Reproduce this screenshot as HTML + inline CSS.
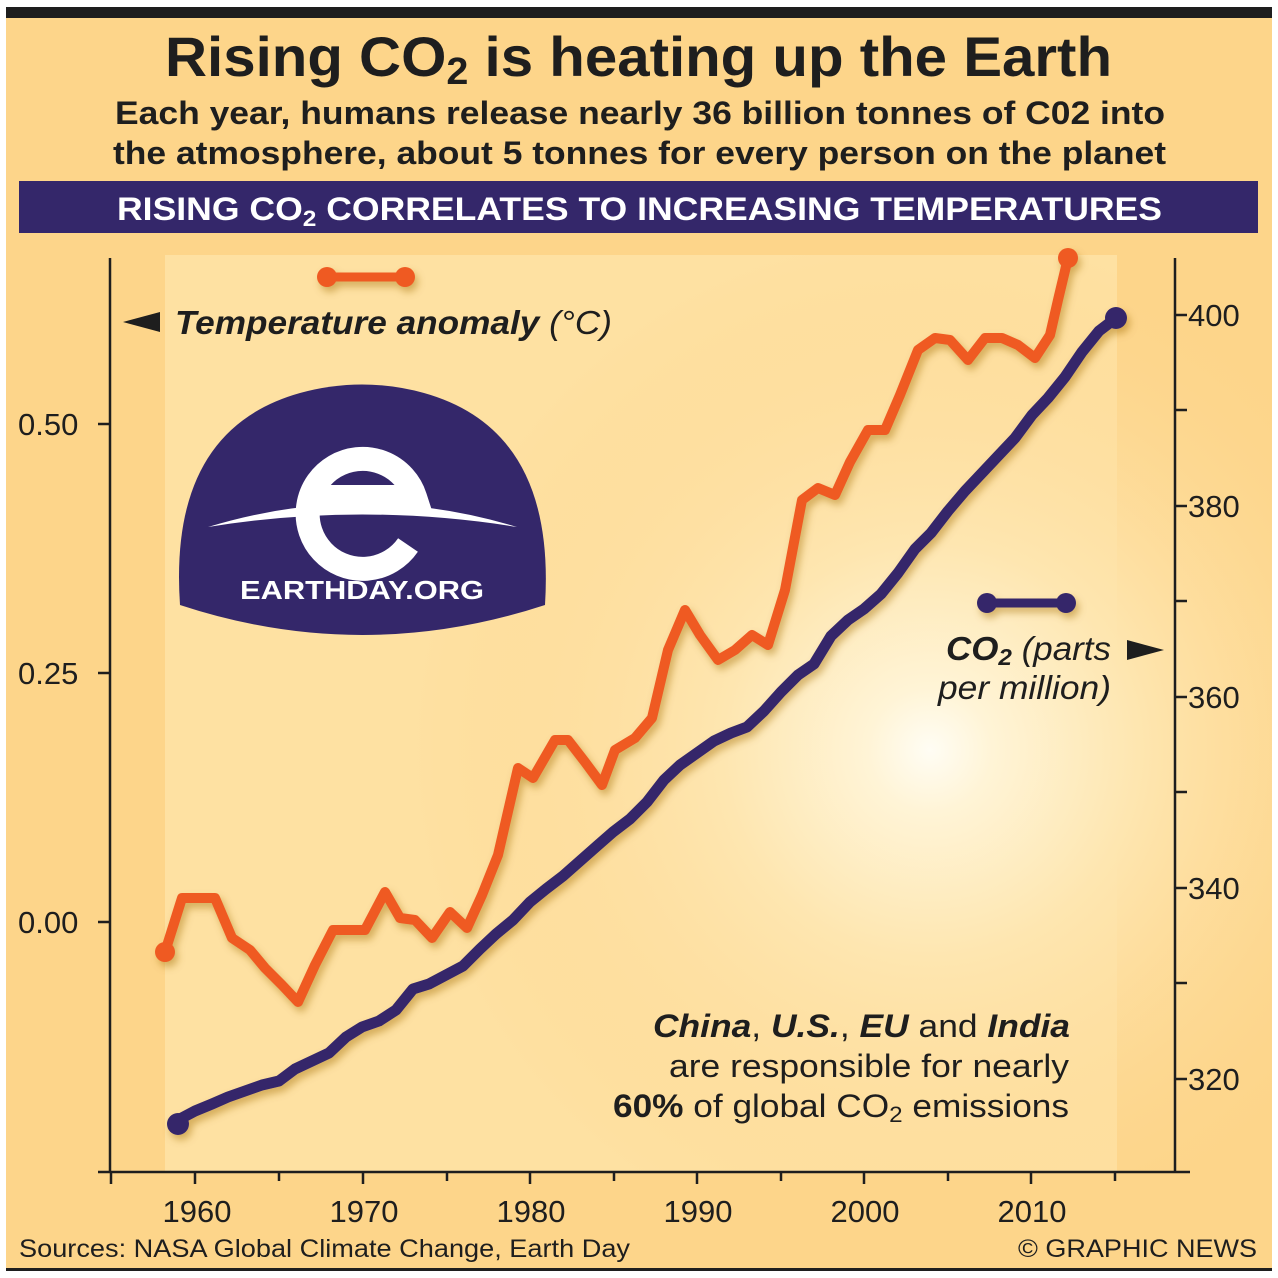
<!DOCTYPE html>
<html><head><style>
body{margin:0;width:1278px;height:1278px;background:#fff;overflow:hidden}
svg{display:block}
text{font-family:"Liberation Sans",Arial,sans-serif}
</style></head><body>
<svg width="1278" height="1278" viewBox="0 0 1278 1278">
<defs>
<radialGradient id="sun" cx="930" cy="750" r="520" gradientUnits="userSpaceOnUse">
<stop offset="0" stop-color="#fffdf4"/><stop offset="0.12" stop-color="#fff4d6"/>
<stop offset="0.4" stop-color="#fee6b0"/><stop offset="1" stop-color="#fdd58c" stop-opacity="0"/>
</radialGradient>
<filter id="sh" x="-5%" y="-5%" width="110%" height="110%"><feDropShadow dx="3" dy="5" stdDeviation="4" flood-color="#a06a10" flood-opacity="0.45"/></filter>
</defs>
<rect x="6" y="7" width="1266" height="1264" fill="#fdd58a"/>
<rect x="6" y="7" width="1266" height="11" fill="#1e1e1e"/>
<rect x="6" y="1268" width="1266" height="3" fill="#1e1e1e"/>
<rect x="165" y="255" width="952" height="917" fill="#fee3a8" opacity="0.8"/>
<rect x="6" y="240" width="1266" height="930" fill="url(#sun)"/>
<text x="165" y="76" textLength="947" lengthAdjust="spacingAndGlyphs" font-size="56" font-weight="bold" fill="#1e1e1e">Rising CO<tspan font-size="38" dy="8">2</tspan><tspan dy="-8"> is heating up the Earth</tspan></text>
<text x="115" y="124" textLength="1050" lengthAdjust="spacingAndGlyphs" font-size="32" font-weight="bold" fill="#1e1e1e">Each year, humans release nearly 36 billion tonnes of C02 into</text>
<text x="113" y="164" textLength="1053" lengthAdjust="spacingAndGlyphs" font-size="32" font-weight="bold" fill="#1e1e1e">the atmosphere, about 5 tonnes for every person on the planet</text>
<rect x="19" y="181" width="1239" height="52" fill="#34276a"/>
<text x="117" y="220" textLength="1045" lengthAdjust="spacingAndGlyphs" font-size="32" font-weight="bold" fill="#fff">RISING CO<tspan font-size="22" dy="6">2</tspan><tspan dy="-6"> CORRELATES TO INCREASING TEMPERATURES</tspan></text>
<g stroke="#1e1e1e" stroke-width="2.5" fill="none">
<path d="M110 258V1172M1175 258V1172M98 1172H1190"/>
<path d="M98 424H110M98 673H110M98 922H110"/>
<path d="M1175 315H1187M1175 410H1187M1175 506H1187M1175 601H1187M1175 697H1187M1175 792H1187M1175 888H1187M1175 983H1187M1175 1079H1187"/>
<path d="M111 1172v12M195 1172v12M279 1172v9M363 1172v12M447 1172v9M530 1172v12M614 1172v9M697 1172v12M781 1172v9M864 1172v12M948 1172v9M1031 1172v12M1115 1172v9"/>
</g>
<g font-size="31" fill="#1e1e1e">
<text x="18" y="435">0.50</text><text x="18" y="684">0.25</text><text x="18" y="933">0.00</text>
<text x="1188" y="326">400</text><text x="1188" y="517">380</text><text x="1188" y="708">360</text><text x="1188" y="899">340</text><text x="1188" y="1090">320</text>
<g text-anchor="middle"><text x="197" y="1222">1960</text><text x="364" y="1222">1970</text><text x="531" y="1222">1980</text><text x="698" y="1222">1990</text><text x="865" y="1222">2000</text><text x="1032" y="1222">2010</text></g>
</g>
<text x="19" y="1257" textLength="611" lengthAdjust="spacingAndGlyphs" font-size="25" fill="#1e1e1e">Sources: NASA Global Climate Change, Earth Day</text>
<text x="1018" y="1257" textLength="239" lengthAdjust="spacingAndGlyphs" font-size="25" fill="#1e1e1e">© GRAPHIC NEWS</text>
<path d="M180 605 Q168 430 300 393 Q362 376 424 393 Q556 430 545 605 Q362 665 180 605Z" fill="#34276a"/>
<path d="M208 527 Q362 480 517 527 Q362 502 208 527Z" fill="#fff"/>
<path d="M408 545 A55 55 0 1 1 415 497 L310 497" fill="none" stroke="#fff" stroke-width="24"/>
<text x="362" y="599" text-anchor="middle" textLength="244" lengthAdjust="spacingAndGlyphs" font-size="26" font-weight="bold" fill="#fff">EARTHDAY.ORG</text>
<g filter="url(#sh)">
<path d="M327 277H405" stroke="#ef5a24" stroke-width="9" stroke-linecap="round"/>
<circle cx="327" cy="277" r="10" fill="#ef5a24"/><circle cx="405" cy="277" r="10" fill="#ef5a24"/>
<path d="M987 603H1066" stroke="#34276a" stroke-width="9" stroke-linecap="round"/>
<circle cx="987" cy="603" r="10" fill="#34276a"/><circle cx="1066" cy="603" r="10" fill="#34276a"/>
</g>
<path d="M123 322L160 312V332Z" fill="#1e1e1e"/>
<text x="175" y="334" textLength="437" lengthAdjust="spacingAndGlyphs" font-size="33" fill="#1e1e1e"><tspan font-weight="bold" font-style="italic">Temperature anomaly</tspan><tspan font-style="italic"> (°C)</tspan></text>
<text x="946" y="660" textLength="165" lengthAdjust="spacingAndGlyphs" font-size="33" font-style="italic" fill="#1e1e1e"><tspan font-weight="bold">CO<tspan font-size="23" dy="5">2</tspan></tspan><tspan dy="-5"> (parts</tspan></text>
<path d="M1127 640L1164 650L1127 660Z" fill="#1e1e1e"/>
<text x="938" y="699" textLength="173" lengthAdjust="spacingAndGlyphs" font-size="33" font-style="italic" fill="#1e1e1e">per million)</text>
<g font-size="32" fill="#1e1e1e">
<text x="653" y="1037" textLength="417" lengthAdjust="spacingAndGlyphs"><tspan font-weight="bold" font-style="italic">China</tspan>, <tspan font-weight="bold" font-style="italic">U.S.</tspan>, <tspan font-weight="bold" font-style="italic">EU</tspan> and <tspan font-weight="bold" font-style="italic">India</tspan></text>
<text x="669" y="1077" textLength="400" lengthAdjust="spacingAndGlyphs">are responsible for nearly</text>
<text x="613" y="1117" textLength="456" lengthAdjust="spacingAndGlyphs"><tspan font-weight="bold">60%</tspan> of global CO<tspan font-size="22" dy="5">2</tspan><tspan dy="-5"> emissions</tspan></text>
</g>
<g filter="url(#sh)" stroke-linejoin="round" stroke-linecap="round" fill="none">
<polyline stroke="#ef5a24" stroke-width="10" points="165,952 182,898 198,898 215,898 232,938 250,950 265,968 282,985 298,1002 315,965 333,930 348,930 365,930 385,892 400,918 415,920 432,938 450,912 467,928 482,895 498,855 518,768 533,778 555,740 568,740 585,762 602,785 615,750 635,738 652,718 668,650 685,610 700,635 718,660 735,650 752,635 768,645 785,590 802,500 818,488 835,495 850,462 868,430 885,430 900,395 918,350 935,338 950,340 968,360 985,338 1002,338 1018,345 1035,358 1050,335 1058,300 1068,258"/>
<circle cx="165" cy="952" r="10" fill="#ef5a24"/><circle cx="1068" cy="258" r="10" fill="#ef5a24"/>
<polyline stroke="#34276a" stroke-width="11" points="178,1120 195,1111 212,1104 228,1097 245,1091 262,1085 279,1081 295,1069 312,1061 329,1053 346,1037 362,1027 379,1021 396,1010 413,989 429,984 446,975 463,966 480,949 496,934 513,920 530,902 546,889 563,876 580,861 597,846 613,832 630,819 647,802 664,780 680,765 697,753 714,741 731,733 747,727 764,711 781,692 798,675 814,664 831,636 848,620 864,609 881,594 898,573 915,549 931,533 948,511 965,491 982,473 998,456 1015,438 1032,415 1048,398 1065,377 1082,352 1099,331 1116,318"/>
<circle cx="178" cy="1124" r="11" fill="#34276a"/><circle cx="1116" cy="318" r="11" fill="#34276a"/>
</g>
</svg>
</body></html>
